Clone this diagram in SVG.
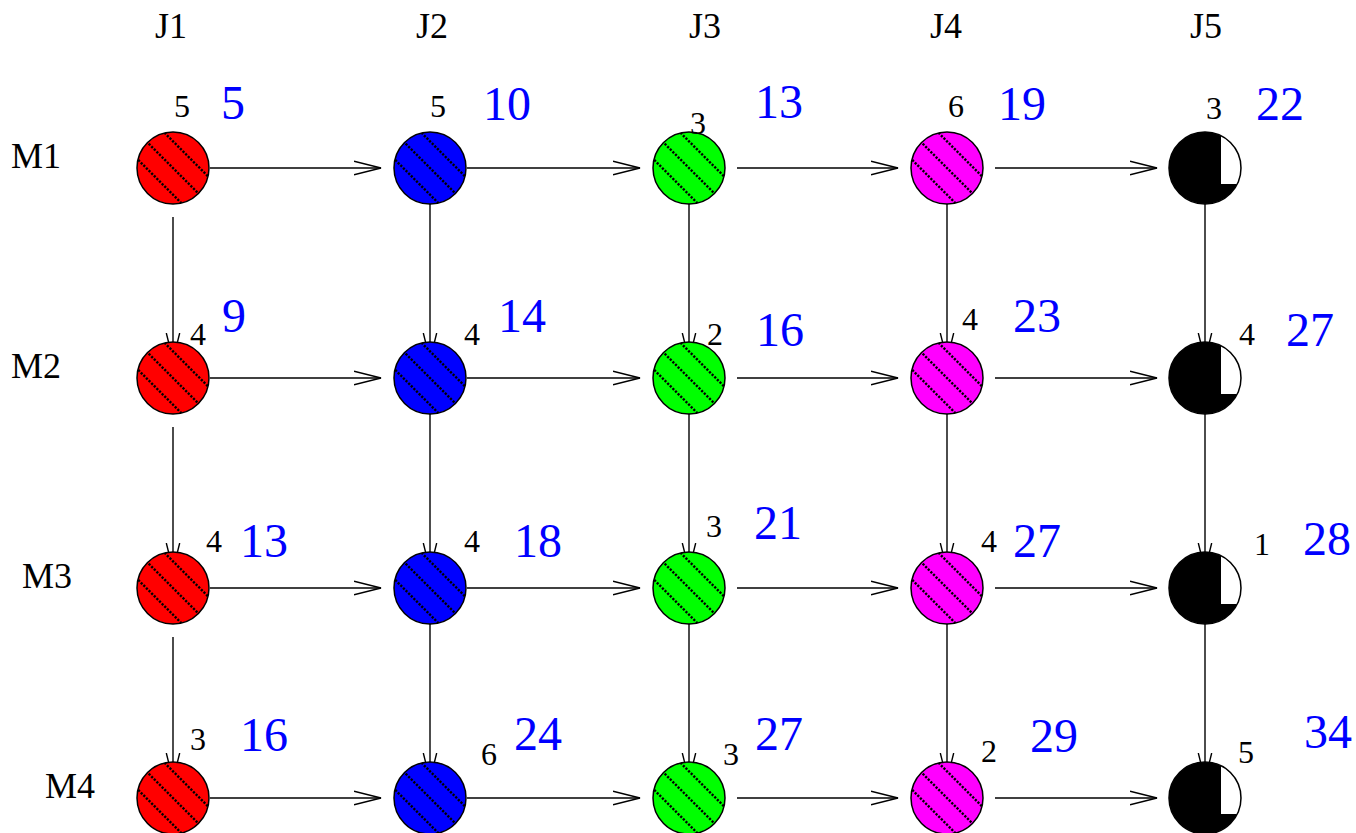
<svg xmlns="http://www.w3.org/2000/svg" xmlns:xlink="http://www.w3.org/1999/xlink" width="1356" height="833" viewBox="0 0 1356 833">
<style>
.lab{font-size:36px;fill:#000}
.n{font-size:32px;fill:#000;text-anchor:middle}
.b{font-size:48px;fill:#0000ff;text-anchor:middle}
.c{stroke:#000;stroke-width:1.5;fill:none}
.h{stroke:#000;stroke-width:2.4;stroke-dasharray:2.2 1.5}
.e{stroke:#000;stroke-width:1.4;fill:none}
</style>
<defs>
<marker id="ar" viewBox="0 0 28 16" refX="27" refY="8" markerWidth="28" markerHeight="16" markerUnits="userSpaceOnUse" orient="auto">
<path d="M0,1.3 L27,8 L0,14.7" fill="none" stroke="#000" stroke-width="1.4"/>
</marker>
<clipPath id="cc"><circle cx="0" cy="0" r="36"/></clipPath>
<g id="hatch" clip-path="url(#cc)">
<line class="h" x1="-40" y1="-66.7" x2="40" y2="13.3"/>
<line class="h" x1="-40" y1="-40" x2="40" y2="40"/>
<line class="h" x1="-40" y1="-13.3" x2="40" y2="66.7"/>
</g>
<g id="red"><circle r="36" fill="#ff0000"/><use xlink:href="#hatch"/><circle class="c" r="36"/></g>
<g id="blue"><circle r="36" fill="#0000ff"/><use xlink:href="#hatch"/><circle class="c" r="36"/></g>
<g id="green"><circle r="36" fill="#00ff00"/><use xlink:href="#hatch"/><circle class="c" r="36"/></g>
<g id="mag"><circle r="36" fill="#ff00ff"/><use xlink:href="#hatch"/><circle class="c" r="36"/></g>
<g id="blk"><circle r="36" fill="#000"/><path d="M16,-32.2 L16,16 L32.2,16 A36,36 0 0 0 16,-32.2 Z" fill="#fff"/><circle class="c" r="36"/></g>
</defs>
<rect width="1356" height="833" fill="#fff"/>

<g font-family="'Liberation Serif', 'DejaVu Serif', serif">
<g id="labels">
<text class="lab" x="171" y="38" text-anchor="middle">J1</text>
<text class="lab" x="432" y="38" text-anchor="middle">J2</text>
<text class="lab" x="705" y="38" text-anchor="middle">J3</text>
<text class="lab" x="946" y="38" text-anchor="middle">J4</text>
<text class="lab" x="1206" y="38" text-anchor="middle">J5</text>
<text class="lab" x="11" y="168">M1</text>
<text class="lab" x="11" y="378">M2</text>
<text class="lab" x="22" y="588">M3</text>
<text class="lab" x="45" y="798">M4</text>
</g>

<g id="connectors">
<line class="e" x1="210" y1="168" x2="381" y2="168" marker-end="url(#ar)"/>
<line class="e" x1="467" y1="168" x2="640" y2="168" marker-end="url(#ar)"/>
<line class="e" x1="737" y1="168" x2="898" y2="168" marker-end="url(#ar)"/>
<line class="e" x1="995" y1="168" x2="1157" y2="168" marker-end="url(#ar)"/>
<line class="e" x1="210" y1="378" x2="381" y2="378" marker-end="url(#ar)"/>
<line class="e" x1="467" y1="378" x2="640" y2="378" marker-end="url(#ar)"/>
<line class="e" x1="737" y1="378" x2="898" y2="378" marker-end="url(#ar)"/>
<line class="e" x1="995" y1="378" x2="1157" y2="378" marker-end="url(#ar)"/>
<line class="e" x1="210" y1="588" x2="381" y2="588" marker-end="url(#ar)"/>
<line class="e" x1="467" y1="588" x2="640" y2="588" marker-end="url(#ar)"/>
<line class="e" x1="737" y1="588" x2="898" y2="588" marker-end="url(#ar)"/>
<line class="e" x1="995" y1="588" x2="1157" y2="588" marker-end="url(#ar)"/>
<line class="e" x1="210" y1="798" x2="381" y2="798" marker-end="url(#ar)"/>
<line class="e" x1="467" y1="798" x2="640" y2="798" marker-end="url(#ar)"/>
<line class="e" x1="737" y1="798" x2="898" y2="798" marker-end="url(#ar)"/>
<line class="e" x1="995" y1="798" x2="1157" y2="798" marker-end="url(#ar)"/>

<line class="e" x1="173" y1="217" x2="173" y2="360" marker-end="url(#ar)"/>
<line class="e" x1="173" y1="427" x2="173" y2="570" marker-end="url(#ar)"/>
<line class="e" x1="173" y1="637" x2="173" y2="780" marker-end="url(#ar)"/>
<line class="e" x1="430" y1="204" x2="430" y2="360" marker-end="url(#ar)"/>
<line class="e" x1="430" y1="414" x2="430" y2="570" marker-end="url(#ar)"/>
<line class="e" x1="430" y1="624" x2="430" y2="780" marker-end="url(#ar)"/>
<line class="e" x1="689" y1="204" x2="689" y2="360" marker-end="url(#ar)"/>
<line class="e" x1="689" y1="414" x2="689" y2="570" marker-end="url(#ar)"/>
<line class="e" x1="689" y1="624" x2="689" y2="780" marker-end="url(#ar)"/>
<line class="e" x1="947" y1="204" x2="947" y2="360" marker-end="url(#ar)"/>
<line class="e" x1="947" y1="414" x2="947" y2="570" marker-end="url(#ar)"/>
<line class="e" x1="947" y1="624" x2="947" y2="780" marker-end="url(#ar)"/>
<line class="e" x1="1205" y1="204" x2="1205" y2="360" marker-end="url(#ar)"/>
<line class="e" x1="1205" y1="414" x2="1205" y2="570" marker-end="url(#ar)"/>
<line class="e" x1="1205" y1="624" x2="1205" y2="780" marker-end="url(#ar)"/>
</g>

<g id="n-M1-J1"><use xlink:href="#red" x="173" y="168"/><text class="n" x="182" y="117">5</text><text class="b" x="233" y="119">5</text></g>
<g id="n-M1-J2"><use xlink:href="#blue" x="430" y="168"/><text class="n" x="438" y="117">5</text><text class="b" x="507" y="120">10</text></g>
<g id="n-M1-J3"><use xlink:href="#green" x="689" y="168"/><text class="n" x="698" y="134">3</text><text class="b" x="779" y="118">13</text></g>
<g id="n-M1-J4"><use xlink:href="#mag" x="947" y="168"/><text class="n" x="956" y="117">6</text><text class="b" x="1022" y="120">19</text></g>
<g id="n-M1-J5"><use xlink:href="#blk" x="1205" y="168"/><text class="n" x="1214" y="119">3</text><text class="b" x="1280" y="120">22</text></g>

<g id="n-M2-J1"><use xlink:href="#red" x="173" y="378"/><text class="n" x="198" y="345">4</text><text class="b" x="234" y="332">9</text></g>
<g id="n-M2-J2"><use xlink:href="#blue" x="430" y="378"/><text class="n" x="472" y="345">4</text><text class="b" x="522" y="332">14</text></g>
<g id="n-M2-J3"><use xlink:href="#green" x="689" y="378"/><text class="n" x="715" y="345">2</text><text class="b" x="780" y="346">16</text></g>
<g id="n-M2-J4"><use xlink:href="#mag" x="947" y="378"/><text class="n" x="970" y="330">4</text><text class="b" x="1037" y="332">23</text></g>
<g id="n-M2-J5"><use xlink:href="#blk" x="1205" y="378"/><text class="n" x="1247" y="345">4</text><text class="b" x="1310" y="346">27</text></g>

<g id="n-M3-J1"><use xlink:href="#red" x="173" y="588"/><text class="n" x="214" y="552">4</text><text class="b" x="264" y="557">13</text></g>
<g id="n-M3-J2"><use xlink:href="#blue" x="430" y="588"/><text class="n" x="472" y="552">4</text><text class="b" x="538" y="557">18</text></g>
<g id="n-M3-J3"><use xlink:href="#green" x="689" y="588"/><text class="n" x="714" y="537">3</text><text class="b" x="778" y="539">21</text></g>
<g id="n-M3-J4"><use xlink:href="#mag" x="947" y="588"/><text class="n" x="989" y="552">4</text><text class="b" x="1037" y="557">27</text></g>
<g id="n-M3-J5"><use xlink:href="#blk" x="1205" y="588"/><text class="n" x="1262" y="555">1</text><text class="b" x="1327" y="555">28</text></g>

<g id="n-M4-J1"><use xlink:href="#red" x="173" y="798"/><text class="n" x="198" y="750">3</text><text class="b" x="264" y="751">16</text></g>
<g id="n-M4-J2"><use xlink:href="#blue" x="430" y="798"/><text class="n" x="489" y="765">6</text><text class="b" x="538" y="750">24</text></g>
<g id="n-M4-J3"><use xlink:href="#green" x="689" y="798"/><text class="n" x="731" y="765">3</text><text class="b" x="779" y="750">27</text></g>
<g id="n-M4-J4"><use xlink:href="#mag" x="947" y="798"/><text class="n" x="989" y="762">2</text><text class="b" x="1054" y="752">29</text></g>
<g id="n-M4-J5"><use xlink:href="#blk" x="1205" y="798"/><text class="n" x="1246" y="763">5</text><text class="b" x="1328" y="748">34</text></g>
</g>
</svg>
